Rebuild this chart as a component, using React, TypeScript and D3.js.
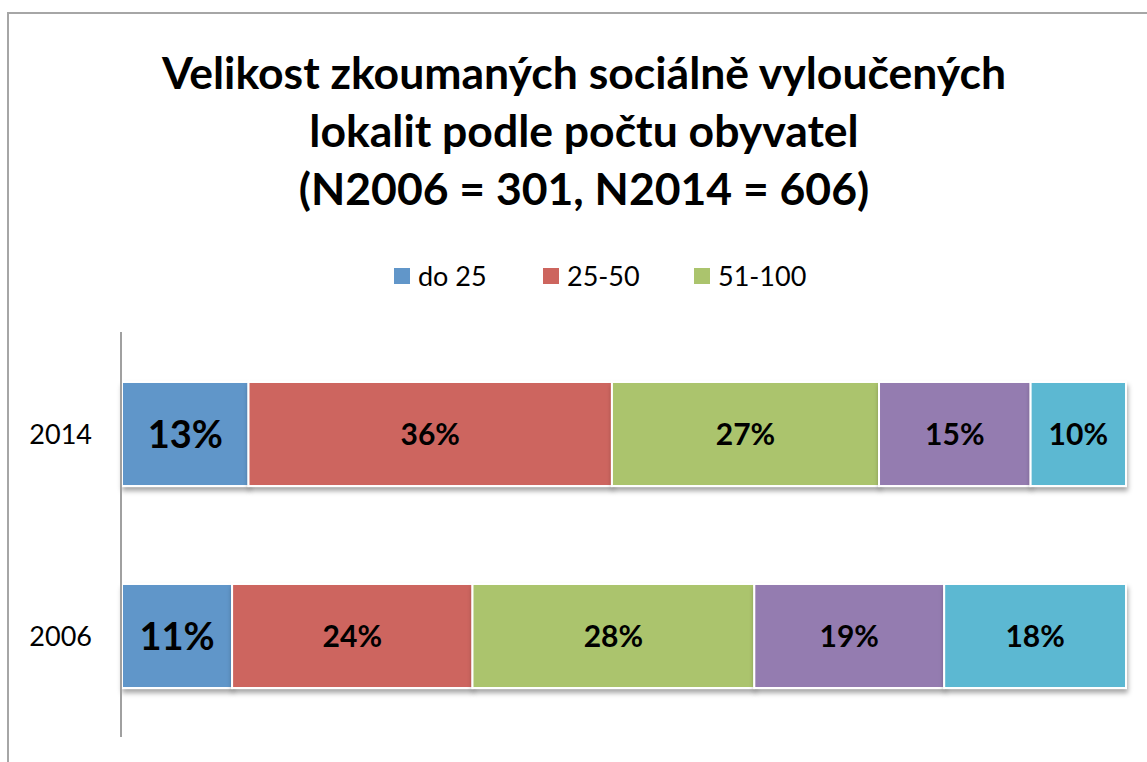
import React from 'react';
import * as d3 from 'd3';

const years = ['2014', '2006'];
const groups = ['do 25', '25-50', '51-100', '101-200', 'nad 200'];
const values2014 = [12.6, 36.2, 26.6, 15.1, 9.5];
const values2006 = [10.9, 23.8, 27.9, 18.8, 18.0];
const labels2014 = ['13%', '36%', '27%', '15%', '10%'];
const labels2006 = ['11%', '24%', '28%', '19%', '18%'];
const colors = ['#6196c9', '#cd655e', '#abc46d', '#947bb0', '#5cb8d2'];
const legendShown = ['do 25', '25-50', '51-100'];
const titleLines = [
  'Velikost zkoumaných sociálně vyloučených',
  'lokalit podle počtu obyvatel',
  '(N2006 = 301, N2014 = 606)',
];

const W = 1147;
const H = 762;
const FONT = 'Lato, "Open Sans", sans-serif';

export default function App() {
  const rows = years.map((y, i) => {
    const vals = i === 0 ? values2014 : values2006;
    const r: Record<string, any> = { year: y };
    groups.forEach((g, j) => (r[g] = vals[j]));
    return r;
  });
  const labels: Record<string, string[]> = { '2014': labels2014, '2006': labels2006 };

  const stack = d3.stack<any>().keys(groups).offset(d3.stackOffsetExpand);
  const series = stack(rows);

  const x = d3.scaleLinear().domain([0, 1]).range([122, 1126]);
  const y = d3.scaleBand().domain(years).range([333, 737]).paddingInner(0.485).paddingOuter(0.2425);

  const legendX = [394, 543, 694];

  return (
    <svg width={W} height={H} style={{ position: 'absolute', left: 0, top: 0, background: '#fff' }} fontFamily={FONT}>
      <defs>
        <filter id="sh" x="-5%" y="-20%" width="110%" height="150%">
          <feDropShadow dx="1" dy="4" stdDeviation="2.5" floodColor="#000" floodOpacity="0.35" />
        </filter>
      </defs>
      {/* frame */}
      <path d={`M8,${H + 5} V13 H${W + 5}`} fill="none" stroke="#a6a6a6" strokeWidth={2} />

      {/* title */}
      {titleLines.map((t, i) => (
        <text key={i} x={584} y={89 + i * 58} textAnchor="middle" fontSize={44.5} fontWeight={700} fill="#000">
          {t}
        </text>
      ))}

      {/* legend */}
      {legendShown.map((g, i) => (
        <g key={g} transform={`translate(${legendX[i]},268)`}>
          <rect x={0} y={0} width={16} height={16} fill={colors[i]} />
          <text x={24} y={18} fontSize={27} fill="#000">{g}</text>
        </g>
      ))}

      {/* bars */}
      {series.map((s, si) => (
        <g key={s.key} filter="url(#sh)">
          {s.map((d) => (
            <rect
              key={d.data.year}
              x={x(d[0])}
              y={y(d.data.year)!}
              width={x(d[1]) - x(d[0])}
              height={y.bandwidth()}
              fill={colors[si]}
              stroke="#fff"
              strokeWidth={2}
            />
          ))}
        </g>
      ))}
      {series.map((s, si) =>
        s.map((d) => (
          <text
            key={s.key + d.data.year}
            x={(x(d[0]) + x(d[1])) / 2}
            y={y(d.data.year)! + y.bandwidth() / 2}
            dy="0.36em"
            textAnchor="middle"
            fontSize={si === 0 ? 38 : 30}
            fontWeight={700}
            fill="#000"
          >
            {labels[d.data.year][si]}
          </text>
        ))
      )}

      {/* axis */}
      <line x1={121} x2={121} y1={332} y2={737} stroke="#a0a0a0" strokeWidth={2} />
      {years.map((yr) => (
        <text key={yr} x={92} y={y(yr)! + y.bandwidth() / 2} dy="0.36em" textAnchor="end" fontSize={27} fill="#000">
          {yr}
        </text>
      ))}
    </svg>
  );
}
